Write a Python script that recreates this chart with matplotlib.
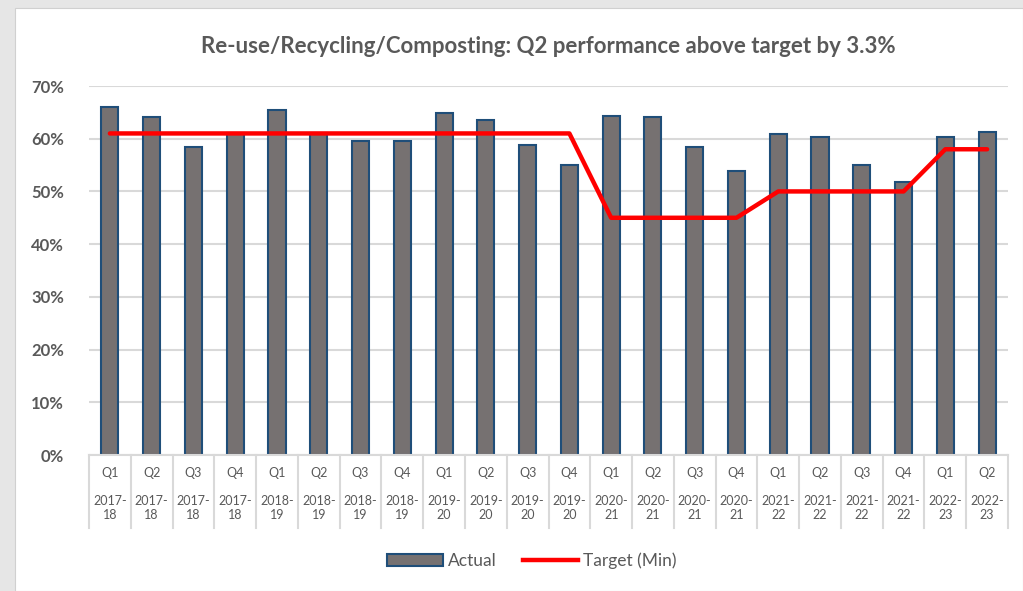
import matplotlib.pyplot as plt
from matplotlib.patches import Patch, Rectangle
from matplotlib.lines import Line2D
import matplotlib.transforms as mtransforms

plt.rcParams['font.family'] = ['Lato', 'DejaVu Sans']

# quarters and financial years along the bottom
quarters = ['Q1', 'Q2', 'Q3', 'Q4'] * 5 + ['Q1', 'Q2']
years = (['2017-\n18'] * 4 + ['2018-\n19'] * 4 + ['2019-\n20'] * 4 +
         ['2020-\n21'] * 4 + ['2021-\n22'] * 4 + ['2022-\n23'] * 2)

# actual performance (fraction)
actual = [0.660, 0.641, 0.584, 0.610, 0.655, 0.610, 0.596, 0.596,
          0.649, 0.636, 0.588, 0.550, 0.644, 0.641, 0.585, 0.539,
          0.609, 0.604, 0.550, 0.517, 0.604, 0.613]

# minimum target
target = [0.61] * 12 + [0.45] * 4 + [0.50] * 4 + [0.58] * 2

grey_txt = '#595959'
x = list(range(len(actual)))

fig = plt.figure(figsize=(10.23, 5.91), dpi=100)
fig.patch.set_facecolor('#e6e6e6')
# white chart area inside the grey frame
fig.patches.append(Rectangle((15 / 1023, 0), 1 - 15 / 1023, 1 - 8 / 591,
                             transform=fig.transFigure, facecolor='white',
                             edgecolor='#d0d0d0', linewidth=0.8, zorder=-5))

ax = fig.add_axes([89 / 1023, 1 - 455 / 591, (1008 - 89) / 1023, (455 - 86) / 591])
ax.set_zorder(2)
ax.set_facecolor('white')

ax.bar(x, actual, width=0.41, color='#767171', edgecolor='#1f4e79',
       linewidth=1.5, zorder=2)
ax.plot(x, target, color='#ff0000', linewidth=3.2, solid_capstyle='round',
        solid_joinstyle='round', zorder=3)

ax.set_xlim(-0.5, len(actual) - 0.5)
ax.set_ylim(0, 0.7)
ax.set_yticks([i / 10 for i in range(8)])
ax.set_yticklabels([f'{i * 10}%' for i in range(8)], fontsize=12,
                   fontweight='bold', color=grey_txt)
ax.tick_params(axis='y', length=0, pad=18)
ax.set_xticks([])
ax.grid(axis='y', color='#d9d9d9', linewidth=1.5, zorder=0)
ax.set_axisbelow(True)
for s in ['top', 'right', 'left']:
    ax.spines[s].set_visible(False)
ax.spines['bottom'].set_color('#d9d9d9')
ax.spines['bottom'].set_linewidth(1.5)

# category table under the axis
trans = mtransforms.blended_transform_factory(ax.transData, ax.transAxes)
h = 455 - 86
for i in range(len(actual) + 1):
    ax.plot([i - 0.5, i - 0.5], [0, -(528 - 455) / h], transform=trans,
            color='#d9d9d9', linewidth=1.5, clip_on=False)
for i, (q, yr) in enumerate(zip(quarters, years)):
    ax.text(i, -(473 - 455) / h, q, transform=trans, ha='center', va='center',
            fontsize=9, color=grey_txt)
    ax.text(i, -(508 - 455) / h, yr, transform=trans, ha='center', va='center',
            fontsize=9, color=grey_txt, linespacing=1.25)

ax.set_title('Re-use/Recycling/Composting: Q2 performance above target by 3.3%',
             fontsize=16, fontweight='bold', color=grey_txt, pad=24)

handles = [Patch(facecolor='#767171', edgecolor='#1f4e79', linewidth=1.5),
           Line2D([0], [0], color='#ff0000', linewidth=3.2)]
fig.legend(handles, ['Actual', 'Target (Min)'], loc='center',
           bbox_to_anchor=(0.52, 1 - 561 / 591), ncol=2, frameon=False,
           fontsize=12.5, labelcolor=grey_txt, handlelength=3.2,
           handletextpad=0.3, columnspacing=1.5)

fig.savefig('out.png', dpi=100, facecolor=fig.get_facecolor())
